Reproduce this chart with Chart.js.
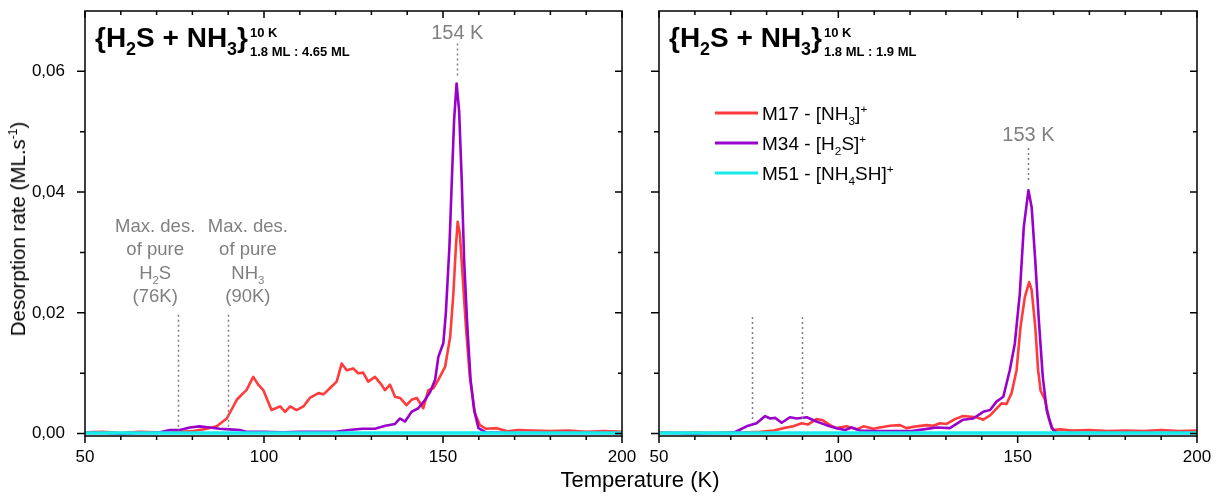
<!DOCTYPE html>
<html lang="en">
<head>
<meta charset="UTF-8">
<title>TPD {H2S + NH3}</title>
<script src="https://cdn.jsdelivr.net/npm/chart.js@4"></script>
<style>
  body { margin: 0; width: 1222px; height: 496px; background: #fff; position: relative; overflow: hidden;
         font-family: "Liberation Sans", Arial, sans-serif; }
  #left { position: absolute; left: 0; top: 0; }
  #right { position: absolute; left: 640px; top: 0; }
  #xtitle { position: absolute; left: 540px; top: 468px; width: 200px; text-align: center; font-size: 22px; line-height: 24px; color: #000; }
  #ytitle { position: absolute; left: 18px; top: 229px; transform: translate(-50%, -50%) rotate(-90deg);
            white-space: nowrap; font-size: 20.5px; line-height: 22px; color: #000; }
  #ytitle sup { font-size: 12px; vertical-align: 8px; line-height: 0; }
</style>
</head>
<body>
<canvas id="left" width="640" height="496"></canvas>
<canvas id="right" width="582" height="496"></canvas>
<div id="xtitle">Temperature (K)</div>
<div id="ytitle">Desorption rate (ML.s<sup>-1</sup>)</div>
<script>
// ---- data ----
// left panel: 1.8 ML H2S : 4.65 ML NH3
const leftM17T = [50,55,60,65,70,75,80,82,84,86.8,89.6,92.4,94.2,95.1,97,98.4,99.8,102.1,104.5,105.9,107.3,109.1,111,112.8,115.2,116.6,118.4,120.3,121.7,123.1,124.9,126.3,127.7,129.1,131,132.8,133.8,135.2,136.6,138,139.8,141.2,142.7,144.5,145.9,147.3,148.7,150.6,152,152.9,153.6,154.1,154.7,155.5,156.4,157.5,158.9,160.3,162,165,168,171,175,180,185,190,195,200];
const leftM17 = [0.0002,0.0003,0.0001,0.0003,0.0002,0.0002,0.0004,0.0006,0.0008,0.0012,0.0025,0.0056,0.0067,0.0072,0.0094,0.0081,0.0072,0.0039,0.0045,0.0036,0.0045,0.0039,0.0045,0.0059,0.0067,0.0065,0.0075,0.0086,0.0116,0.0105,0.0108,0.0100,0.0101,0.0086,0.0094,0.0081,0.0072,0.0081,0.0061,0.0059,0.0047,0.0056,0.0059,0.0042,0.0072,0.0075,0.0089,0.0111,0.016,0.0232,0.0309,0.0351,0.0331,0.026,0.0177,0.0094,0.0034,0.0014,0.0008,0.0009,0.0004,0.0006,0.0005,0.0004,0.0005,0.0003,0.0004,0.0003];
const leftM34T = [50,55,60,65,70,73.7,76.5,79.3,82,84.8,87.6,90.4,93.2,95,100,105,110,115,120,123.7,127.4,131,133.9,136.6,138,139.4,141.2,143.1,145,146.4,147.8,148.7,150.1,150.8,151.8,152.5,153.1,153.8,154.5,155.2,155.9,156.8,157.7,158.7,159.9,162,170,180,190,200];
const leftM34 = [0.0001,0.0001,0.0000,0.0001,0.0001,0.0006,0.0006,0.001,0.0012,0.001,0.0008,0.0007,0.0006,0.0003,0.0003,0.0002,0.0003,0.0003,0.0003,0.0006,0.0008,0.0008,0.0013,0.0016,0.0025,0.002,0.0036,0.0042,0.0056,0.0069,0.0089,0.0127,0.015,0.02,0.031,0.0425,0.0519,0.058,0.0535,0.0425,0.0287,0.0177,0.0089,0.0039,0.0009,0.0002,0.0001,0.0001,0.0001,0.0001];
const leftM51T = [50,75,100,125,150,175,200];
const leftM51 = [0.0001,0.0001,0.0001,0.0001,0.0001,0.0001,0.0001];

// right panel: 1.8 ML H2S : 1.9 ML NH3
const rightM17T = [50,55,60,65,70,75,78.2,82,84.7,87.4,89.8,91.5,93.9,95.7,97.7,99.5,102.3,105.1,107,109.8,111.6,114.4,117.2,119,121.8,124.6,126.5,128.3,130.2,132.5,134.8,138.5,140.4,142.3,145.5,146.9,148.3,149.7,150.8,152,153.2,153.9,154.9,155.7,156.4,157.6,158.8,159.9,162,165,170,175,180,185,190,195,200];
const rightM17 = [0.0002,0.0001,0.0002,0.0001,0.0002,0.0002,0.0003,0.0005,0.0009,0.0012,0.0017,0.0015,0.0024,0.0022,0.0014,0.0009,0.0012,0.0007,0.0012,0.0008,0.001,0.0013,0.0014,0.0009,0.0012,0.0014,0.0013,0.0017,0.0016,0.0024,0.0029,0.0027,0.0023,0.003,0.005,0.0049,0.0067,0.0105,0.0177,0.0226,0.0251,0.0238,0.0177,0.0105,0.0071,0.0056,0.0023,0.0006,0.0007,0.0005,0.0006,0.0004,0.0005,0.0004,0.0006,0.0004,0.0005];
const rightM34T = [50,55,60,65,70,71.4,74.4,77.2,79.6,81,82.4,84.2,86.5,88.4,91.2,93.9,96.7,99.5,101.9,103.7,106,110,115,120,123.7,127.4,131.1,134.8,137.6,140.4,142.3,144.1,146,147.8,149.2,150.6,151.7,153,153.9,154.9,155.9,157,158.1,159.5,160.9,165,175,185,200];
const rightM34 = [0.0001,0.0001,0.0,0.0001,0.0001,0.0003,0.0012,0.0017,0.0029,0.0025,0.0026,0.0018,0.0027,0.0025,0.0027,0.002,0.0014,0.0009,0.0006,0.001,0.0005,0.0004,0.0004,0.0004,0.0007,0.001,0.0009,0.0023,0.0025,0.0036,0.0039,0.0053,0.0061,0.0105,0.0149,0.0232,0.0342,0.0403,0.0375,0.0287,0.0188,0.0094,0.0039,0.0009,0.0001,0.0001,0.0001,0.0001,0.0001];
const rightM51T = [50,75,100,125,150,175,200];
const rightM51 = [0.0001,0.0001,0.0001,0.0001,0.0001,0.0001,0.0001];

const xMajor = [50, 100, 150, 200];
const xMinor = [50,60,70,80,90,100,110,120,130,140,150,160,170,180,190,200];
const yMajor = [0, 0.02, 0.04, 0.06];
const yMinor = [0, 0.01, 0.02, 0.03, 0.04, 0.05, 0.06];

const seriesNames = ['M17 - [NH3]+', 'M34 - [H2S]+', 'M51 - [NH4SH]+'];
const RED = '#ff3b3b', PURPLE = '#9900cc', CYAN = '#14ecec', GREY = '#808080';
const FONT = '"Liberation Sans", Arial, sans-serif';

function pts(t, v) { return t.map((x, i) => ({ x: x, y: v[i] })); }

// text with sub (-1) / sup (1) parts
function drawRich(ctx, parts, x, y, size, o) {
  o = Object.assign({ align: 'left', weight: 'normal', color: '#000', sub: 0.62, subDy: 0.22, supDy: 0.42 }, o || {});
  const f = s => o.weight + ' ' + s + 'px ' + FONT;
  let w = 0;
  parts.forEach(p => { ctx.font = f(p[1] ? size * o.sub : size); w += ctx.measureText(p[0]).width; });
  let cx = o.align === 'center' ? x - w / 2 : o.align === 'right' ? x - w : x;
  ctx.fillStyle = o.color; ctx.textAlign = 'left'; ctx.textBaseline = 'alphabetic';
  parts.forEach(p => {
    ctx.font = f(p[1] ? size * o.sub : size);
    const dy = p[1] === -1 ? size * o.subDy : p[1] === 1 ? -size * o.supDy : 0;
    ctx.fillText(p[0], cx, y + dy);
    cx += ctx.measureText(p[0]).width;
  });
  return cx;
}

function vline(ctx, xs, ys, t, v0, v1) {
  const px = Math.round(xs.getPixelForValue(t)) + 0.5;
  ctx.beginPath(); ctx.moveTo(px, ys.getPixelForValue(v0)); ctx.lineTo(px, ys.getPixelForValue(v1)); ctx.stroke();
}

const decor = {
  id: 'decor',
  afterDatasetsDraw(chart, args, opts) {
    const ctx = chart.ctx, a = chart.chartArea, xs = chart.scales.x, ys = chart.scales.y;
    ctx.save();
    // frame + ticks
    ctx.strokeStyle = '#000'; ctx.lineWidth = 1.5;
    ctx.strokeRect(a.left, a.top, a.right - a.left, a.bottom - a.top);
    ctx.beginPath();
    xMinor.forEach(v => {
      const px = xs.getPixelForValue(v), L = xMajor.includes(v) ? 7 : 4;
      ctx.moveTo(px, a.bottom); ctx.lineTo(px, a.bottom + L);
      ctx.moveTo(px, a.top); ctx.lineTo(px, a.top + L);
    });
    yMinor.forEach(v => {
      const py = ys.getPixelForValue(v), L = yMajor.includes(v) ? 7 : 4;
      ctx.moveTo(a.left - L - 1, py); ctx.lineTo(a.left, py);
      ctx.moveTo(a.right - L, py); ctx.lineTo(a.right, py);
    });
    ctx.stroke();

    // title
    const end = drawRich(ctx, [['{H', 0], ['2', -1], ['S + NH', 0], ['3', -1], ['}', 0]], a.left + 10, 47, 28,
      { weight: 'bold', sub: 0.64, subDy: 0.3 });
    ctx.font = 'bold 13px ' + FONT; ctx.fillStyle = '#000';
    ctx.fillText('10 K', end + 2, 37);
    ctx.fillText(opts.ratio, end + 2, 56);

    // annotations
    ctx.strokeStyle = GREY; ctx.lineWidth = 1.5; ctx.setLineDash([2, 3]);
    opts.marks.forEach(m => vline(ctx, xs, ys, m.t, m.v0, m.v1));
    ctx.setLineDash([]);
    drawRich(ctx, [[opts.peak.t + ' K', 0]], xs.getPixelForValue(opts.peak.t), ys.getPixelForValue(opts.peak.y), 20,
      { align: 'center', color: GREY });
    (opts.blocks || []).forEach(b => {
      let y = ys.getPixelForValue(b.y);
      b.lines.forEach(l => {
        drawRich(ctx, l, xs.getPixelForValue(b.x), y, 18.5, { align: 'center', color: GREY, subDy: 0.25 });
        y += 23.5;
      });
    });

    // legend
    if (opts.legend) {
      const items = [
        [RED, [['M17 - [NH', 0], ['3', -1], [']', 0], ['+', 1]]],
        [PURPLE, [['M34 - [H', 0], ['2', -1], ['S]', 0], ['+', 1]]],
        [CYAN, [['M51 - [NH', 0], ['4', -1], ['SH]', 0], ['+', 1]]]
      ];
      items.forEach((it, i) => {
        const y = a.top + 102 + i * 30;
        ctx.strokeStyle = it[0]; ctx.lineWidth = 3;
        ctx.beginPath(); ctx.moveTo(a.left + 56, y); ctx.lineTo(a.left + 99, y); ctx.stroke();
        drawRich(ctx, it[1], a.left + 103, y + 7, 19, { subDy: 0.25, supDy: 0.38 });
      });
    }
    ctx.restore();
  }
};

function makeChart(id, d, yw, padRight, showY, decorOpts) {
  return new Chart(document.getElementById(id), {
    type: 'line',
    data: {
      datasets: [
        { label: seriesNames[0], data: pts(d[0], d[1]), borderColor: RED, borderWidth: 2.6, order: 2 },
        { label: seriesNames[1], data: pts(d[2], d[3]), borderColor: PURPLE, borderWidth: 2.6, order: 1 },
        { label: seriesNames[2], data: pts(d[4], d[5]), borderColor: CYAN, borderWidth: 3.4, order: 0 }
      ]
    },
    options: {
      responsive: false,
      animation: false,
      layout: { padding: { top: 11, right: padRight, left: 0, bottom: 0 } },
      elements: { point: { radius: 0 }, line: { tension: 0, borderJoinStyle: 'round' } },
      plugins: { legend: { display: false }, tooltip: { enabled: false }, decor: decorOpts },
      scales: {
        x: {
          type: 'linear', min: 50, max: 200,
          grid: { display: false }, border: { display: false },
          afterBuildTicks: s => { s.ticks = xMajor.map(v => ({ value: v })); },
          afterFit: s => { s.height = 60; s.paddingLeft = 0; s.paddingRight = 0; },
          ticks: { color: '#000', font: { size: 17, family: FONT }, padding: 3, maxRotation: 0, autoSkip: false }
        },
        y: {
          min: -0.0004, max: 0.07,
          grid: { display: false }, border: { display: false },
          afterBuildTicks: s => { s.ticks = yMajor.map(v => ({ value: v })); },
          afterFit: s => { s.width = yw; s.paddingTop = 0; s.paddingBottom = 0; },
          ticks: { display: showY, color: '#000', font: { size: 17, family: FONT }, padding: 12,
                   callback: v => v.toFixed(2).replace('.', ',') }
        }
      }
    },
    plugins: [decor]
  });
}

makeChart('left', [leftM17T, leftM17, leftM34T, leftM34, leftM51T, leftM51], 85, 18, true, {
  ratio: '1.8 ML : 4.65 ML',
  peak: { t: 154, y: 0.0653 },
  marks: [{ t: 154, v0: 0.0646, v1: 0.0588 }, { t: 76, v0: 0.0197, v1: 0.0005 }, { t: 90, v0: 0.0197, v1: 0.0005 }],
  blocks: [
    { x: 69.6, y: 0.0334, lines: [[['Max. des.', 0]], [['of pure', 0]], [['H', 0], ['2', -1], ['S', 0]], [['(76K)', 0]]] },
    { x: 95.5, y: 0.0334, lines: [[['Max. des.', 0]], [['of pure', 0]], [['NH', 0], ['3', -1]], [['(90K)', 0]]] }
  ],
  legend: false
});

makeChart('right', [rightM17T, rightM17, rightM34T, rightM34, rightM51T, rightM51], 19, 25, false, {
  ratio: '1.8 ML : 1.9 ML',
  peak: { t: 153, y: 0.0484 },
  marks: [{ t: 153, v0: 0.0473, v1: 0.0416 }, { t: 76, v0: 0.0193, v1: 0.0022 }, { t: 90, v0: 0.0193, v1: 0.0022 }],
  legend: true
});
</script>
</body>
</html>
